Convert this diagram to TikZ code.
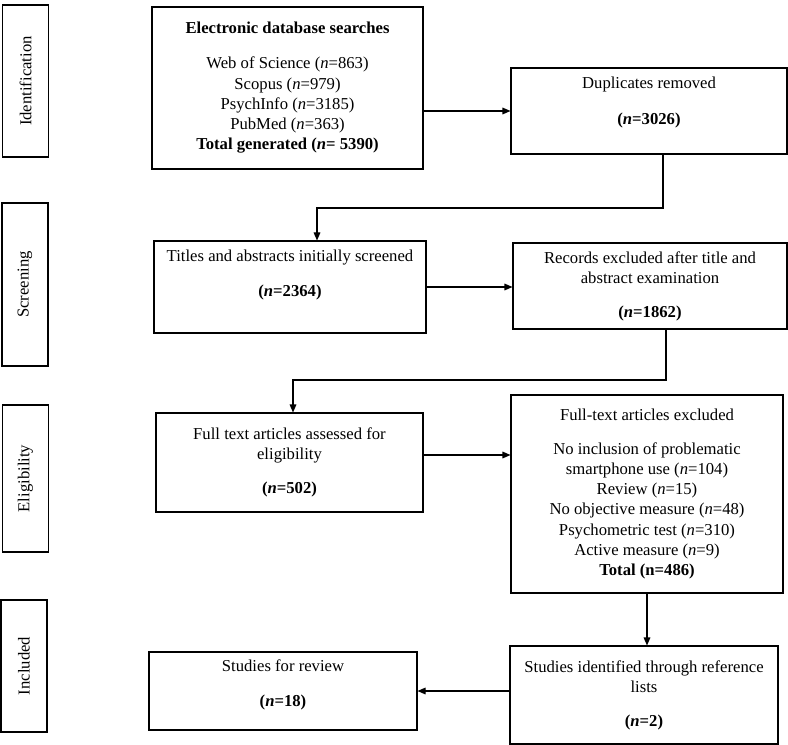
\documentclass[tikz,border=0pt]{standalone}
\usepackage{fontspec}
\setmainfont{Liberation Serif}
\usetikzlibrary{arrows.meta}

\begin{document}
\begin{tikzpicture}[
    , x = 0.75pt
    , y = -0.75pt
    , line width = 0.8pt
    , font = \fontsize{12.5pt}{15.2pt}\selectfont
    , n/.style 2 args = {
      , draw
      , align = center
      , inner sep = 0pt
      , minimum width = #1*0.75pt
      , minimum height = #2*0.75pt
    }
    , phase/.style = {
      , draw
      , rotate = 90
      , inner sep = 0pt
      , minimum height = 46*0.75pt
      , minimum width = #1*0.75pt
    }
    , arr/.style = {-{Triangle[length=6pt, width=5pt]}}
  ]
    \useasboundingbox (0,0) rectangle (788,745);

    % stages on the left
    \node (id-lbl) [phase=152] at (25.5,81) {Identification};
    \node (scr-lbl) [phase=163] at (25,284.5) {Screening};
    \node (elg-lbl) [phase=147] at (25.5,478.5) {Eligibility};
    \node (inc-lbl) [phase=132] at (24,666) {Included};

    % boxes
    \node (search) [n={271}{162}] at (287.5,88) {\textbf{Electronic database searches}\\[11pt]
      Web of Science (\textit{n}=863)\\ Scopus (\textit{n}=979)\\ PsychInfo (\textit{n}=3185)\\
      PubMed (\textit{n}=363)\\ \textbf{Total generated (\textit{n}= 5390)}};
    \node (dups) [n={276}{86}] at (649,111) {Duplicates removed\\[12pt]
      \textbf{(\textit{n}=3026)}\\[0pt]\mbox{}};
    \node (titles) [n={272}{92}] at (290,287) {Titles and abstracts initially screened\\[11pt]
      \textbf{(\textit{n}=2364)}\\[5pt]\mbox{}};
    \node (rec-ex) [n={274}{86}] at (650,286) {Records excluded after title and\\
      abstract examination\\[10pt] \textbf{(\textit{n}=1862)}};
    \node (full) [n={267}{99}] at (289.5,462.5) {Full text articles assessed for\\
      eligibility\\[10pt] \textbf{(\textit{n}=502)}};
    \node (full-ex) [n={272}{198}] at (647,494) {Full-text articles excluded\\[10pt]
      No inclusion of problematic\\ smartphone use (\textit{n}=104)\\ Review (\textit{n}=15)\\
      No objective measure (\textit{n}=48)\\ Psychometric test (\textit{n}=310)\\
      Active measure (\textit{n}=9)\\ \textbf{Total (n=486)}};
    \node (refs) [n={268}{98}] at (644,695) {Studies identified through reference\\
      lists\\[10pt] \textbf{(\textit{n}=2)}};
    \node (review) [n={268}{78}] at (283,691) {Studies for review\\[11pt]
      \textbf{(\textit{n}=18)}\\[-4pt]\mbox{}};

    % connectors
    \coordinate (k1) at (663,208);
    \coordinate (k2) at (317,208);
    \coordinate (k3) at (666,380);
    \coordinate (k4) at (293,380);
    \draw [arr] (search.east |- dups.west) -- (dups.west);
    \draw [arr] (dups.south -| k1) -- (k1) -- (k2) -- (titles.north -| k2);
    \draw [arr] (titles.east) -- (titles.east -| rec-ex.west);
    \draw [arr] (rec-ex.south -| k3) -- (k3) -- (k4) -- (full.north -| k4);
    \draw [arr] ([yshift=5.625pt]full.east) -- ([yshift=5.625pt]full.east -| full-ex.west);
    \draw [arr] (full-ex.south) -- (full-ex.south |- refs.north);
    \draw [arr] (refs.west |- review.east) -- (review.east);
  \end{tikzpicture}
\end{document}
